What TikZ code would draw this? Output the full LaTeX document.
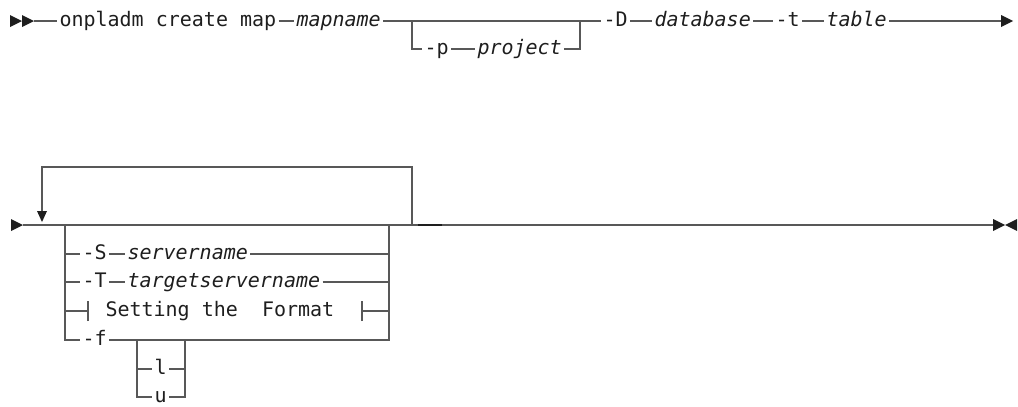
\documentclass[tikz,border=0pt]{standalone}
\usepackage{fontspec}
\setmonofont{DejaVu Sans Mono}
\usetikzlibrary{positioning}
\definecolor{railgray}{RGB}{88,88,88}
\definecolor{tokentext}{RGB}{30,30,30}

\begin{document}
\begin{tikzpicture}[x=1pt,y=-1pt,
  kw/.style={anchor=west,inner xsep=2.5pt,inner ysep=0pt,outer sep=0pt,
             text height=10.9pt,text depth=0pt,text=tokentext,
             font=\ttfamily\fontsize{20}{24}\selectfont},
  var/.style={kw,font=\ttfamily\itshape\fontsize{20}{24}\selectfont},
  rail/.style={draw=railgray,line width=1.3pt},
  tip/.style={fill=tokentext}
]
\useasboundingbox (0,0) rectangle (1018,407);

% first line
\coordinate (r1s) at (34,21);
\node[kw]  (cmd)      at (57,21)  {onpladm create map};
\node[var] (mapname)  at (294,21) {mapname};
\coordinate (p1)  at (412,21);
\coordinate (p2)  at (580,21);
\coordinate (p1b) at (412,49);
\coordinate (p2b) at (580,49);
\node[kw]  (optp)     at (422,49) {-p};
\node[var] (project)  at (475,49) {project};
\node[kw]  (optD)     at (601,21) {-D};
\node[var] (database) at (652,21) {database};
\node[kw]  (optt)     at (773,21) {-t};
\node[var] (table)    at (824,21) {table};
\coordinate (r1e) at (1001,21);

\fill[tip] (10,15) -- (22,21) -- (10,27) -- cycle;
\fill[tip] (22,15) -- (34,21) -- (22,27) -- cycle;
\draw[rail] (r1s) -- (cmd);
\draw[rail] (cmd) -- (mapname);
\draw[rail] (mapname) -- (p1) -- (p2) -- (optD);
\draw[rail] (p1) -- (p1b) -- (optp);
\draw[rail] (optp) -- (project);
\draw[rail] (project) -- (p2b) -- (p2);
\draw[rail] (optD) -- (database);
\draw[rail] (database) -- (optt);
\draw[rail] (optt) -- (table);
\draw[rail] (table) -- (r1e);
\fill[tip] (1001,15) -- (1013,21) -- (1001,27) -- cycle;

% second line
\coordinate (r2s) at (23,225);
\coordinate (r2e) at (993,225);
\coordinate (lpR)  at (412,225);
\coordinate (lpRt) at (412,167);
\coordinate (lpLt) at (42,167);
\coordinate (lpL)  at (42,212);
\coordinate (jn1) at (418,225);
\coordinate (jn2) at (442,225);

\coordinate (bL0) at (65,225);
\coordinate (bLS) at (65,254);
\coordinate (bLT) at (65,282);
\coordinate (bLF) at (65,311);
\coordinate (bLf) at (65,340);
\coordinate (bR0) at (389,225);
\coordinate (bRS) at (389,254);
\coordinate (bRT) at (389,282);
\coordinate (bRF) at (389,311);
\coordinate (bRf) at (389,340);
\coordinate (ftL) at (88,311);
\coordinate (ftR) at (362,311);
\coordinate (sbL)  at (137,340);
\coordinate (sbR)  at (185,340);
\coordinate (sbLl) at (137,369);
\coordinate (sbRl) at (185,369);
\coordinate (sbLu) at (137,397);
\coordinate (sbRu) at (185,397);

\node[kw]  (optS) at (80,254)  {-S};
\node[var] (srv)  at (125,254) {servername};
\node[kw]  (optT) at (80,282)  {-T};
\node[var] (tsrv) at (125,282) {targetservername};
\node[kw]  (fmt)  at (103,311) {Setting the\ \ Format};
\node[kw]  (optf) at (80,340)  {-f};
\node[kw]  (optl) at (152,369) {l};
\node[kw]  (optu) at (152,397) {u};

\fill[tip] (11,219) -- (23,225) -- (11,231) -- cycle;
\draw[rail] (r2s) -- (r2e);
\draw[rail] (lpR) -- (lpRt) -- (lpLt) -- (lpL);
\fill[tip] (37,211) -- (47,211) -- (42,222) -- cycle;
\draw[line width=2.4pt,tokentext] (jn1) -- (jn2);

\draw[rail] (bL0) -- (bLf) -- (optf);
\draw[rail] (optf) -- (bRf) -- (bR0);
\draw[rail] (bLS) -- (optS);
\draw[rail] (optS) -- (srv);
\draw[rail] (srv) -- (bRS);
\draw[rail] (bLT) -- (optT);
\draw[rail] (optT) -- (tsrv);
\draw[rail] (tsrv) -- (bRT);
\draw[rail] (bLF) -- (ftL);
\draw[rail] ([yshift=-10pt]ftL) -- ([yshift=10pt]ftL);
\draw[rail] ([yshift=-10pt]ftR) -- ([yshift=10pt]ftR);
\draw[rail] (ftR) -- (bRF);
\draw[rail] (sbL) -- (sbLu) -- (optu) -- (sbRu) -- (sbR);
\draw[rail] (sbLl) -- (optl) -- (sbRl);

\fill[tip] (993,219) -- (1005,225) -- (993,231) -- cycle;
\fill[tip] (1017,219) -- (1005,225) -- (1017,231) -- cycle;
\end{tikzpicture}
\end{document}
